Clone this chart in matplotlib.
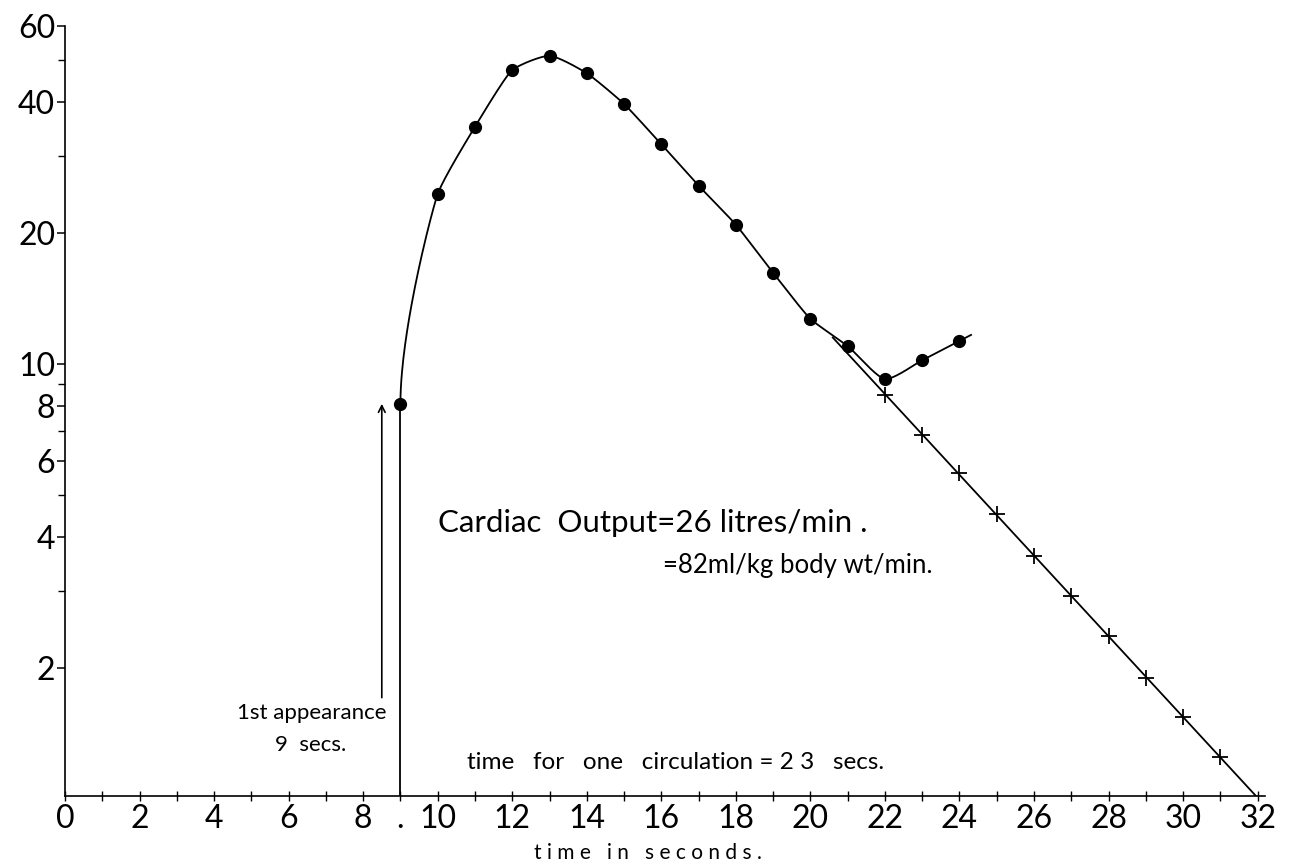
import numpy as np
import matplotlib
matplotlib.use("Agg")
import matplotlib.pyplot as plt
from matplotlib.ticker import FixedLocator, NullFormatter

# Dye-dilution curve: concentration sampled once per second (log scale)
dye_t = [9, 10, 11, 12, 13, 14, 15, 16, 17, 18, 19, 20, 21, 22, 23, 24]
dye_c = [8.1, 24.6, 35.1, 47.4, 51.1, 46.6, 39.6, 32.0, 25.7, 20.9,
         16.2, 12.7, 11.0, 9.24, 10.2, 11.3]

# Extrapolated exponential down-slope (recirculation removed)
decay_t = [22, 23, 24, 25, 26, 27, 28, 29, 30, 31]
decay_c = [8.49, 6.87, 5.61, 4.51, 3.62, 2.93, 2.37, 1.90, 1.54, 1.25]

# Axis ticks
y_major = [2, 4, 6, 8, 10, 20, 40, 60]
y_minor = [3, 5, 7, 9, 30, 50]
x_labelled = [0, 2, 4, 6, 8, 9, 10, 12, 14, 16, 18, 20, 22, 24, 26, 28, 30, 32]
x_labels = ["0", "2", "4", "6", "8", ".", "10", "12", "14", "16", "18", "20",
            "22", "24", "26", "28", "30", "32"]
x_minor = list(range(0, 33))

first_appearance = 9
arrow_t = 8.5
arrow_base = 1.71

FONT = ["Lato", "DejaVu Sans"]
plt.rcParams["font.family"] = FONT

W, H = 1291, 868
fig = plt.figure(figsize=(W / 100, H / 100), dpi=100)

# axes geometry in pixels
x0_px, sec_px = 65.0, 37.27
y10_px, dec_px = 364.0, 435.0
xlim = (0, 32.2)
ylim_top = 60.0
base_px = 796.0
ylim_bot = 10 ** (1 - (base_px - y10_px) / dec_px)
top_px = y10_px - dec_px * (np.log10(ylim_top) - 1)
left = x0_px / W
width = (xlim[1] - xlim[0]) * sec_px / W
bottom = (H - base_px) / H
height = (base_px - top_px) / H
ax = fig.add_axes([left, bottom, width, height])
ax.set_yscale("log")
ax.set_xlim(*xlim)
ax.set_ylim(ylim_bot, ylim_top)

k = dec_px / sec_px  # aspect factor between log units and seconds


def smooth(x, y, start_tangent=None, n=60, tail=0.0, tension=0.6):
    """Hermite curve through the points, with chord-limited tangents."""
    P = np.column_stack([np.asarray(x, float), k * np.log10(y)])
    D = np.diff(P, axis=0)
    L = np.hypot(D[:, 0], D[:, 1])
    U = D / L[:, None]
    T = np.zeros_like(P)
    for i in range(1, len(P) - 1):
        d = U[i - 1] + U[i]
        d /= np.hypot(*d)
        T[i] = d * min(L[i - 1], L[i]) * tension
    T[0] = D[0]
    T[-1] = D[-1]
    if start_tangent is not None:
        T[0] = start_tangent
    s = np.linspace(0, 1, n)[:, None]
    h00 = 2 * s**3 - 3 * s**2 + 1
    h10 = s**3 - 2 * s**2 + s
    h01 = -2 * s**3 + 3 * s**2
    h11 = s**3 - s**2
    segs = [h00 * P[i] + h10 * T[i] + h01 * P[i + 1] + h11 * T[i + 1]
            for i in range(len(P) - 1)]
    pts = np.vstack(segs)
    if tail > 0:
        end = P[-1] + T[-1] / np.hypot(*T[-1]) * tail
        pts = np.vstack([pts, end])
    return pts[:, 0], 10 ** (pts[:, 1] / k)


lw = 1.3
cx, cy = smooth(dye_t, dye_c, start_tangent=(0.0, 6.0), tail=0.35)
ax.plot(cx, cy, color="black", lw=lw)
ax.plot(dye_t, dye_c, "o", color="black", ms=8.5)

# straight exponential fit through the extrapolated points
slope, icpt = np.polyfit(decay_t, np.log10(decay_c), 1)
lt = np.array([20.6, 32.0])
ax.plot(lt, 10 ** (icpt + slope * lt), color="black", lw=lw)
ax.plot(decay_t, decay_c, "+", color="black", ms=12, mew=1.3)

# first appearance marker and arrow
ax.plot([first_appearance, first_appearance], [ylim_bot, dye_c[0]],
        color="black", lw=lw)
ax.annotate("", xy=(arrow_t, dye_c[0]), xytext=(arrow_t, arrow_base),
            arrowprops=dict(arrowstyle="->", lw=1.2, color="black",
                            mutation_scale=12, shrinkA=0, shrinkB=0))

# spines and ticks
for s in ("top", "right"):
    ax.spines[s].set_visible(False)
ax.spines["left"].set_linewidth(1.2)
ax.spines["bottom"].set_linewidth(1.2)
ax.yaxis.set_major_locator(FixedLocator(y_major))
ax.yaxis.set_minor_locator(FixedLocator(y_minor))
ax.yaxis.set_minor_formatter(NullFormatter())
ax.set_yticklabels([str(v) for v in y_major])
ax.xaxis.set_major_locator(FixedLocator(x_labelled))
ax.xaxis.set_minor_locator(FixedLocator(x_minor))
ax.set_xticklabels(x_labels)
ax.tick_params(axis="y", which="major", direction="out", length=6,
               width=1.1, labelsize=23, pad=1)
ax.tick_params(axis="y", which="minor", direction="out", length=5, width=1.0)
ax.tick_params(axis="x", which="both", direction="inout", length=7,
               width=1.0, labelsize=23, pad=2)

# annotations
ax.text(10.0, 4.31, "Cardiac  Output=26 litres/min .", fontsize=22.5,
        ha="left", va="center")
ax.text(16.05, 3.45, "=82ml/kg body wt/min.", fontsize=18.5,
        ha="left", va="center")
ax.text(10.79, 1.21, "time   for   one   circulation = 2 3   secs.",
        fontsize=17.5, ha="left", va="center")
ax.text(8.62, 1.58, "1st appearance", fontsize=16, ha="right", va="center")
ax.text(5.63, 1.33, "9  secs.", fontsize=16, ha="left", va="center")

fig.text(648 / W, 1 - 853 / H, "t i m e   i n   s e c o n d s .",
         fontsize=15, ha="center", va="center")

fig.savefig("out.png", dpi=100, facecolor="white")
